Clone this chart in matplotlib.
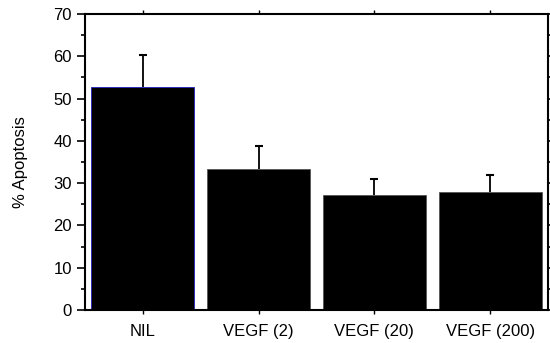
import matplotlib
matplotlib.use("Agg")
import matplotlib.pyplot as plt
from matplotlib.ticker import MultipleLocator

categories = ["NIL", "VEGF (2)", "VEGF (20)", "VEGF (200)"]
values = [52.7, 33.3, 27.3, 28.0]
errors = [7.6, 5.5, 3.6, 3.9]

plt.rcParams['font.family'] = ['Liberation Sans', 'DejaVu Sans']

fig = plt.figure(figsize=(5.5, 3.43), dpi=100)
ax = fig.add_axes([85/550, 1 - 310/343, (548-85)/550, (310-14)/343])

x = list(range(len(categories)))
bars = ax.bar(x, values, width=0.89, color='black', edgecolor='#555555', linewidth=0.6, zorder=2)
bars[0].set_edgecolor('#2020c0')
_, caps, _ = ax.errorbar(x, values, yerr=[[0]*len(errors), errors], fmt='none', ecolor='black',
                         elinewidth=1.3, capsize=3, capthick=1.5, zorder=3)
caps[0].remove()

ax.set_xlim(-0.5, 3.5)
ax.set_ylim(0, 70)
ax.set_xticks(x)
ax.set_xticklabels(categories, fontsize=12)
ax.yaxis.set_major_locator(MultipleLocator(10))
ax.yaxis.set_minor_locator(MultipleLocator(5))
ax.tick_params(axis='y', which='major', direction='out', length=6, width=1.2, labelsize=12,
               right=True)
ax.tick_params(axis='y', which='minor', direction='out', length=3, width=1.2, right=True)
ax.tick_params(axis='x', direction='out', length=3, width=1, top=True, pad=7)
ax.set_ylabel("% Apoptosis", fontsize=12, labelpad=18)
for s in ax.spines.values():
    s.set_linewidth(1.5)

fig.savefig("out.png", dpi=100)
